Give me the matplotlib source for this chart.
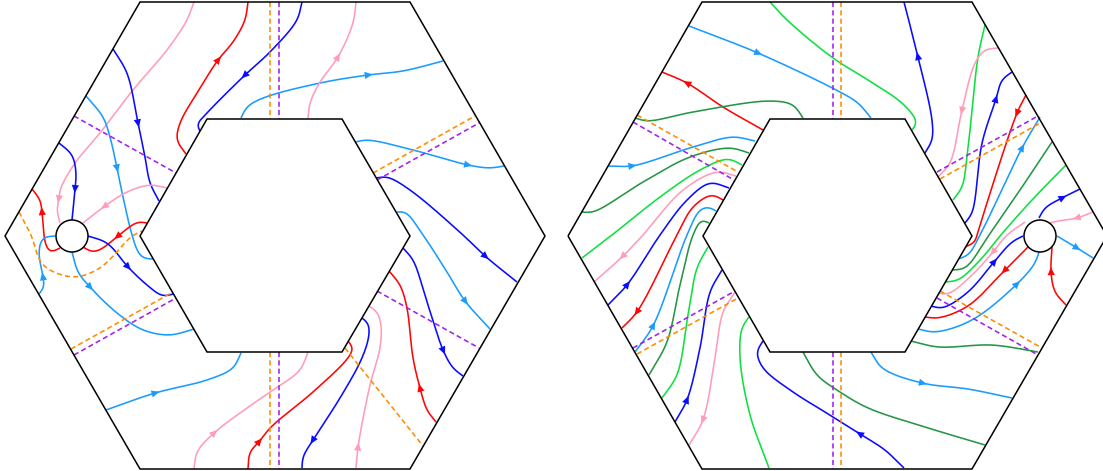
import numpy as np
import matplotlib
matplotlib.use("Agg")
import matplotlib.pyplot as plt
from matplotlib.patches import Polygon, Circle

BLUE = '#0b0bff'
SKY = '#1a9cff'
RED = '#ff0505'
PINK = '#ff9db8'
GREEN = '#0ee040'
DGREEN = '#259645'
ORANGE = '#ff8c00'
PURPLE = '#a020f0'

# hexagons
left_outer = [(5, 236), (140, 2), (410, 2), (545, 236), (410, 469), (140, 469)]
left_inner = [(140, 236), (207, 119), (342, 119), (410, 236), (342, 352), (207, 352)]
left_hole = (72, 236)
right_outer = [(568, 236), (702, 2), (972, 2), (1107, 236), (972, 469), (702, 469)]
right_inner = [(703, 236), (770, 119), (905, 119), (972, 236), (905, 352), (770, 352)]
right_hole = (1040, 236)

# left hexagon, streamlines
l_pink1 = [(194, 2), (187, 20), (167, 50), (133, 90), (100, 133), (75, 163), (60, 190), (59, 199), (57, 210), (60, 223)]
l_red1 = [(186, 154), (177, 140), (180, 123), (197, 93), (218, 60), (233, 42), (245, 20), (248, 2)]
l_blue1 = [(302, 2), (297, 20), (270, 52), (245, 75), (207, 113), (197, 125), (200, 131)]
l_sky1 = [(241, 118), (247, 107), (263, 98), (320, 83), (368, 75), (403, 71), (443, 61)]
l_pink2 = [(308, 118), (310, 103), (320, 82), (338, 57), (353, 23), (356, 2)]
l_blue2 = [(113, 49), (127, 73), (138, 123), (145, 157), (150, 183), (159, 201)]
l_sky2 = [(86, 96), (103, 117), (110, 137), (117, 168), (123, 197), (132, 235), (138, 252), (143, 258), (153, 259)]
l_blue3 = [(59, 143), (72, 155), (76, 173), (75, 189), (72, 220)]
l_red2 = [(60, 248), (50, 252), (45, 242), (44, 235), (42, 212), (40, 200), (32, 189)]
l_pink3 = [(167, 188), (150, 185), (127, 192), (105, 206), (83, 223)]
l_red3 = [(147, 223), (138, 222), (118, 236), (103, 248), (93, 252), (83, 247)]
l_blue4 = [(88, 236), (107, 243), (128, 267), (147, 285), (163, 296), (173, 294)]
l_sky3 = [(39, 294), (44, 287), (43, 277), (39, 252), (43, 238), (55, 236)]
l_sky4 = [(72, 252), (78, 272), (90, 287), (117, 313), (143, 330), (170, 335), (194, 329)]
l_sky5 = [(106, 410), (155, 393), (207, 380), (233, 368), (241, 353)]
l_pink4 = [(194, 469), (197, 452), (214, 433), (247, 408), (270, 392), (300, 370), (308, 352)]
l_red4 = [(248, 469), (250, 452), (259, 442), (270, 428), (313, 392), (348, 358), (353, 348), (348, 341)]
l_blue5 = [(362, 318), (368, 323), (369, 335), (362, 358), (340, 398), (313, 440), (303, 457), (302, 468)]
l_pink5 = [(356, 468), (358, 447), (370, 385), (380, 348), (381, 325), (377, 312), (369, 306)]
l_red5 = [(436, 422), (427, 410), (420, 388), (413, 358), (407, 308), (400, 285), (389, 271)]
l_blue6 = [(403, 248), (413, 260), (427, 302), (443, 350), (453, 368), (463, 376)]
l_sky6 = [(397, 212), (405, 212), (423, 235), (447, 272), (465, 301), (490, 329)]
l_blue7 = [(376, 178), (387, 177), (410, 190), (463, 235), (485, 256), (517, 282)]
l_sky7 = [(355, 142), (367, 140), (413, 150), (468, 165), (490, 168), (504, 166)]
l_orange_arc = [(19, 212), (31, 235), (43, 265), (73, 277), (100, 268), (132, 236), (142, 231)]

# left hexagon, straight dashed lines
l_dash_orange = [((270, 2), (270, 119)), ((270, 352), (270, 469)), ((373, 173), (475, 116)),
                 ((71, 349), (173, 292)), ((345, 348), (423, 446))]
l_dash_purple = [((279, 2), (279, 119)), ((279, 352), (279, 469)), ((74, 116), (176, 173)),
                 ((377, 180), (479, 123)), ((74, 355), (176, 298)), ((377, 291), (479, 348))]

# right hexagon, streamlines
r_sky1 = [(689, 26), (758, 53), (840, 92), (858, 103), (871, 118)]
r_green1 = [(770, 2), (787, 20), (833, 58), (868, 80), (902, 103), (916, 120), (916, 125), (912, 130)]
r_red1 = [(763, 130), (723, 107), (687, 83), (662, 72)]
r_dgreen1 = [(635, 118), (647, 121), (693, 112), (770, 101), (793, 105), (803, 118)]
r_sky2 = [(608, 166), (632, 166), (693, 147), (733, 137), (755, 141)]
r_dgreen2 = [(581, 212), (593, 212), (643, 182), (690, 157), (730, 148), (749, 153)]
r_green2 = [(582, 258), (612, 235), (660, 197), (700, 170), (728, 159), (742, 165)]
r_pink1 = [(736, 176), (717, 172), (683, 190), (643, 235), (623, 256), (594, 282)]
r_blue1 = [(608, 305), (627, 285), (660, 235), (687, 200), (710, 183), (729, 188)]
r_red2 = [(723, 200), (712, 195), (693, 207), (677, 235), (637, 312), (622, 328)]
r_sky3 = [(635, 352), (653, 326), (687, 235), (700, 210), (708, 207), (716, 211)]
r_dgreen3 = [(649, 375), (667, 342), (680, 285), (693, 235), (702, 220), (709, 223)]
r_green3 = [(662, 398), (677, 375), (688, 315), (697, 268), (708, 247)]
r_blue2 = [(675, 422), (687, 400), (700, 348), (710, 292), (722, 270)]
r_pink2 = [(735, 292), (723, 312), (715, 358), (703, 420), (689, 445)]
r_green4 = [(769, 468), (750, 415), (740, 358), (742, 328), (749, 317)]
r_blue3 = [(904, 468), (885, 450), (860, 434), (825, 412), (793, 392), (763, 368), (757, 352), (763, 341)]
r_dgreen4 = [(803, 352), (817, 375), (840, 392), (868, 408), (925, 427), (985, 445)]
r_sky4 = [(871, 352), (882, 368), (922, 383), (968, 389), (1012, 398)]
r_dgreen5 = [(911, 341), (938, 347), (992, 345), (1038, 352)]
r_sky5 = [(918, 329), (935, 332), (972, 320), (1017, 284), (1035, 263), (1039, 252)]
r_red3 = [(1028, 247), (1005, 270), (968, 306), (938, 318), (925, 317)]
r_blue4 = [(931, 306), (942, 308), (968, 292), (994, 262), (1012, 242), (1023, 236)]
r_pink3 = [(1025, 222), (1007, 235), (993, 252), (972, 275), (948, 294), (938, 293)]
r_green5 = [(945, 282), (958, 280), (982, 258), (1000, 236), (1032, 200), (1066, 165)]
r_dgreen6 = [(953, 270), (965, 268), (989, 235), (1018, 193), (1052, 142)]
r_sky6 = [(958, 259), (968, 255), (980, 235), (1022, 148), (1040, 117)]
r_red4 = [(1026, 95), (1017, 113), (977, 235), (975, 242), (965, 247)]
r_blue5 = [(965, 223), (972, 213), (982, 143), (996, 99), (1002, 80), (1012, 72)]
r_green6 = [(953, 200), (962, 187), (967, 157), (978, 57), (985, 25)]
r_pink4 = [(998, 48), (985, 50), (975, 63), (962, 110), (950, 163), (938, 177)]
r_blue6 = [(925, 153), (932, 140), (932, 120), (918, 57), (904, 2)]
r_blue7 = [(1039, 218), (1045, 208), (1062, 198), (1080, 189)]
r_pink5 = [(1093, 212), (1077, 218), (1058, 221), (1050, 223)]
r_sky7 = [(1057, 236), (1077, 248), (1093, 258)]
r_red5 = [(1066, 305), (1055, 292), (1051, 272), (1052, 247)]

# right hexagon, straight dashed lines
r_dash_orange = [((841, 2), (841, 119)), ((841, 352), (841, 469)), ((637, 115), (738, 172)),
                 ((637, 354), (738, 298)), ((940, 179), (1042, 122)), ((940, 291), (1042, 348))]
r_dash_purple = [((833, 2), (833, 119)), ((833, 352), (833, 469)), ((633, 122), (734, 180)),
                 ((633, 348), (735, 291)), ((937, 172), (1038, 116)), ((937, 298), (1038, 355))]


def smooth(pts, n=24, sigma=4.0):
    # centripetal catmull-rom through the read points
    p = np.array(pts, dtype=float)
    p = np.vstack([2 * p[0] - p[1], p, 2 * p[-1] - p[-2]])
    out = []
    for i in range(1, len(p) - 2):
        p0, p1, p2, p3 = p[i - 1], p[i], p[i + 1], p[i + 2]
        t0 = 0.0
        t1 = t0 + np.linalg.norm(p1 - p0) ** 0.5
        t2 = t1 + np.linalg.norm(p2 - p1) ** 0.5
        t3 = t2 + np.linalg.norm(p3 - p2) ** 0.5
        for t in np.linspace(t1, t2, n, endpoint=False):
            a1 = (t1 - t) / (t1 - t0) * p0 + (t - t0) / (t1 - t0) * p1
            a2 = (t2 - t) / (t2 - t1) * p1 + (t - t1) / (t2 - t1) * p2
            a3 = (t3 - t) / (t3 - t2) * p2 + (t - t2) / (t3 - t2) * p3
            b1 = (t2 - t) / (t2 - t0) * a1 + (t - t0) / (t2 - t0) * a2
            b2 = (t3 - t) / (t3 - t1) * a2 + (t - t1) / (t3 - t1) * a3
            out.append((t2 - t) / (t2 - t1) * b1 + (t - t1) / (t2 - t1) * b2)
    out.append(p[-2])
    xy = np.array(out)

    # even out the kinks: resample by length, then a small gaussian
    s = np.r_[0, np.cumsum(np.hypot(*np.diff(xy, axis=0).T))]
    ss = np.arange(0, s[-1], 1.0)
    ss = np.r_[ss, s[-1]]
    xy = np.c_[np.interp(ss, s, xy[:, 0]), np.interp(ss, s, xy[:, 1])]
    m = int(3 * sigma)
    if len(xy) <= m + 1:
        return xy
    kernel = np.exp(-0.5 * (np.arange(-m, m + 1) / sigma) ** 2)
    kernel /= kernel.sum()
    # odd reflection keeps the end points fixed
    head = 2 * xy[0] - xy[m:0:-1]
    tail = 2 * xy[-1] - xy[-2:-m - 2:-1]
    padded = np.vstack([head, xy, tail])
    return np.c_[np.convolve(padded[:, 0], kernel, 'valid'), np.convolve(padded[:, 1], kernel, 'valid')]


def stream(ax, pts, color, arrow=None):
    # pts run in the flow direction, arrow is the index of the point with the head
    xy = smooth(pts)
    ax.plot(xy[:, 0], xy[:, 1], color=color, lw=1.15, solid_capstyle='butt', zorder=2)
    if arrow is None:
        return
    at = np.array(pts[arrow], dtype=float)
    k = np.argmin(((xy - at) ** 2).sum(axis=1))
    u = xy[min(k + 3, len(xy) - 1)] - xy[max(k - 3, 0)]
    u = u / np.linalg.norm(u)
    v = np.array([-u[1], u[0]])
    at = xy[k]
    head = [at + 4.5 * u, at - 3.5 * u + 3.6 * v, at - 3.5 * u - 3.6 * v]
    ax.add_patch(Polygon(head, closed=True, fc=color, ec='none', zorder=3))


def dashes(ax, segs, color):
    for a, b in segs:
        ax.plot([a[0], b[0]], [a[1], b[1]], color=color, lw=1.15, dashes=(3.2, 2.0), zorder=2)


def hexagon(ax, outer, inner, hole):
    ax.add_patch(Polygon(outer, closed=True, fc='none', ec='black', lw=1.1, zorder=4, joinstyle='miter'))
    ax.add_patch(Polygon(inner, closed=True, fc='white', ec='black', lw=1.1, zorder=4, joinstyle='miter'))
    ax.add_patch(Circle(hole, 16, fc='white', ec='black', lw=1.1, zorder=4))


fig = plt.figure(figsize=(11.03, 4.71), dpi=100)
ax = fig.add_axes([0, 0, 1, 1])
ax.set_xlim(0, 1103)
ax.set_ylim(471, 0)
ax.axis('off')

# left
stream(ax, l_pink1, PINK, 7)
stream(ax, l_red1, RED, 4)
stream(ax, l_blue1, BLUE, 3)
stream(ax, l_sky1, SKY, 4)
stream(ax, l_pink2, PINK, 3)
stream(ax, l_blue2, BLUE, 2)
stream(ax, l_sky2, SKY, 3)
stream(ax, l_blue3, BLUE, 3)
stream(ax, l_red2, RED, 4)
stream(ax, l_pink3, PINK, 3)
stream(ax, l_red3, RED, 2)
stream(ax, l_blue4, BLUE, 2)
stream(ax, l_sky3, SKY, 2)
stream(ax, l_sky4, SKY, 2)
stream(ax, l_sky5, SKY, 1)
stream(ax, l_pink4, PINK, 2)
stream(ax, l_red4, RED, 2)
stream(ax, l_blue5, BLUE, 5)
stream(ax, l_pink5, PINK, 1)
stream(ax, l_red5, RED, 2)
stream(ax, l_blue6, BLUE, 3)
stream(ax, l_sky6, SKY, 4)
stream(ax, l_blue7, BLUE, 4)
stream(ax, l_sky7, SKY, 3)
stream(ax, l_orange_arc, ORANGE)
ax.lines[-1].set_dashes((3.2, 2.0))
dashes(ax, l_dash_orange, ORANGE)
dashes(ax, l_dash_purple, PURPLE)
hexagon(ax, left_outer, left_inner, left_hole)

# right
stream(ax, r_sky1, SKY, 1)
stream(ax, r_green1, GREEN)
stream(ax, r_red1, RED, 2)
stream(ax, r_dgreen1, DGREEN)
stream(ax, r_sky2, SKY, 1)
stream(ax, r_dgreen2, DGREEN)
stream(ax, r_green2, GREEN)
stream(ax, r_pink1, PINK, 4)
stream(ax, r_blue1, BLUE, 1)
stream(ax, r_red2, RED, 4)
stream(ax, r_sky3, SKY, 1)
stream(ax, r_dgreen3, DGREEN)
stream(ax, r_green3, GREEN)
stream(ax, r_blue2, BLUE, 1)
stream(ax, r_pink2, PINK, 3)
stream(ax, r_green4, GREEN)
stream(ax, r_blue3, BLUE, 2)
stream(ax, r_dgreen4, DGREEN)
stream(ax, r_sky4, SKY, 2)
stream(ax, r_dgreen5, DGREEN)
stream(ax, r_sky5, SKY, 3)
stream(ax, r_red3, RED, 1)
stream(ax, r_blue4, BLUE, 3)
stream(ax, r_pink3, PINK, 2)
stream(ax, r_green5, GREEN)
stream(ax, r_dgreen6, DGREEN)
stream(ax, r_sky6, SKY, 3)
stream(ax, r_red4, RED, 1)
stream(ax, r_blue5, BLUE, 3)
stream(ax, r_green6, GREEN)
stream(ax, r_pink4, PINK, 3)
stream(ax, r_blue6, BLUE, 3)
stream(ax, r_blue7, BLUE, 2)
stream(ax, r_pink5, PINK, 1)
stream(ax, r_sky7, SKY, 1)
stream(ax, r_red5, RED, 2)
dashes(ax, r_dash_orange, ORANGE)
dashes(ax, r_dash_purple, PURPLE)
hexagon(ax, right_outer, right_inner, right_hole)

fig.savefig('out.png', dpi=100)
